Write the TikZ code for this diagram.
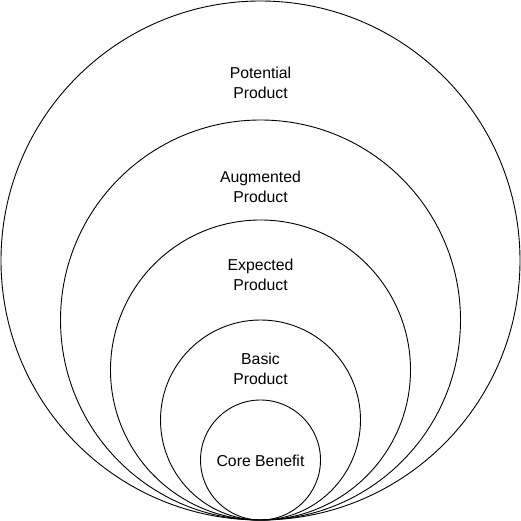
\documentclass[tikz,border=0pt]{standalone}
\usepackage{fontspec}
\setmainfont{Liberation Sans}
\begin{document}
\begin{tikzpicture}[x=1pt,y=-1pt,
  ring/.style={draw=black,line width=0.9pt},
  lbl/.style={align=center,font=\fontsize{15.8}{20}\selectfont,inner sep=0pt}]
\useasboundingbox (0,0) rectangle (521,521);
\fill[white] (0,0) rectangle (521,521);
\draw[ring] (260.5,260.5) circle[radius=259.5];
\draw[ring] (260.5,320) circle[radius=200];
\draw[ring] (260.5,370) circle[radius=150];
\draw[ring] (260.5,420) circle[radius=100];
\draw[ring] (260.5,460) circle[radius=60];
\node[lbl] (potential) at (260.5,83) {Potential\\Product};
\node[lbl] (augmented) at (260.5,187) {Augmented\\Product};
\node[lbl] (expected) at (260.5,274.5) {Expected\\Product};
\node[lbl] (basic) at (260.5,369) {Basic\\Product};
\node[lbl] (core) at (260.5,461) {Core Benefit};
\end{tikzpicture}
\end{document}
